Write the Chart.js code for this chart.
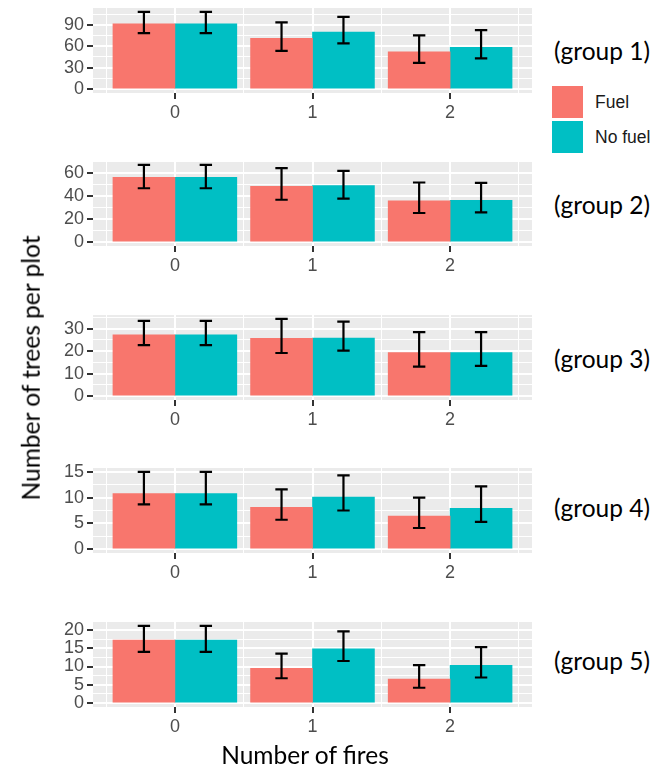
<!DOCTYPE html>
<html><head><meta charset="utf-8">
<script src="https://cdn.jsdelivr.net/npm/chart.js@4.4.0/dist/chart.umd.min.js"></script>
<style>
html,body{margin:0;padding:0;background:#fff;}
#wrap{position:relative;width:671px;height:771px;overflow:hidden;background:#fff;}
#wrap canvas{position:absolute;left:0;}
.glab{position:absolute;left:554px;font-family:Lato,"Open Sans",sans-serif;font-size:24.5px;color:#000;white-space:nowrap;transform:translateY(-50%);line-height:1;}
.sw{position:absolute;left:552px;width:31px;height:32px;}
.lt{position:absolute;left:595px;font-family:"Liberation Sans",Arial,sans-serif;font-size:17.5px;color:#1a1a1a;transform:translateY(-50%);line-height:1;white-space:nowrap;}
.ttl{position:absolute;font-family:Lato,"Open Sans",sans-serif;font-size:24.5px;color:#000;white-space:nowrap;line-height:1;}
</style></head>
<body><div id="wrap"></div>
<script>
// ---------------- data ----------------
const categories = [0, 1, 2];
const xTickLabels = ['0', '1', '2'];
const groupLabels = ['(group 1)', '(group 2)', '(group 3)', '(group 4)', '(group 5)'];
const seriesNames = ['Fuel', 'No fuel'];

const fuelMean = [[91.4, 70.9, 52.2], [56.2, 48.5, 35.9], [27.3, 25.7, 19.4], [10.8, 8.1, 6.4], [17.2, 9.5, 6.6]];
const fuelLow  = [[78.4, 53.6, 36.8], [46.8, 36.8, 25.3], [22.7, 19.2, 13.1], [8.7, 5.7, 4.1], [14.0, 6.8, 4.2]];
const fuelHigh = [[108, 93.3, 75.0], [67.1, 64.2, 51.8], [33.5, 34.4, 28.5], [15.0, 11.6, 10.0], [21.1, 13.5, 10.4]];

const noFuelMean = [[91.4, 79.8, 58.3], [56.2, 49.2, 36.2], [27.3, 25.8, 19.4], [10.8, 10.1, 7.9], [17.2, 14.8, 10.3]];
const noFuelLow  = [[78.4, 63.9, 43.0], [46.8, 37.7, 25.9], [22.7, 20.3, 13.5], [8.7, 7.5, 5.3], [14.0, 11.5, 7.0]];
const noFuelHigh = [[108, 101, 82.6], [67.1, 61.8, 51.5], [33.5, 33.2, 28.5], [15.0, 14.3, 12.2], [21.1, 19.6, 15.3]];

const yMajorTicks = [[0, 30, 60, 90], [0, 20, 40, 60], [0, 10, 20, 30], [0, 5, 10, 15], [0, 5, 10, 15, 20]];

// ---------------- layout / style ----------------
const COLORS = ['#F8766D', '#00BFC4'];
const panelTops = [7.5, 161, 314.5, 468, 621.5];
const panelH = 85;
const padTop = 16, xAxisH = 34, canvasW = 545, plotLeft = 93, plotRight = 532;
const groupLabelY = [50.5, 205, 359, 508, 661];
const TICK_FONT = { family: 'Liberation Sans', size: 18 };

const wrap = document.getElementById('wrap');

const bgPlugin = {
  id: 'bg',
  beforeDraw(chart) {
    const a = chart.chartArea, c = chart.ctx;
    c.save(); c.fillStyle = '#EBEBEB';
    c.fillRect(a.left, a.top, a.right - a.left, a.bottom - a.top);
    c.restore();
  }
};
const errPlugin = {
  id: 'err',
  afterDatasetsDraw(chart) {
    const c = chart.ctx, ys = chart.scales.y;
    chart.data.datasets.forEach((ds, i) => {
      const meta = chart.getDatasetMeta(i);
      meta.data.forEach((el, j) => {
        const x = el.x, half = el.width * 0.1;
        const yh = ys.getPixelForValue(ds.hi[j]), yl = ys.getPixelForValue(ds.lo[j]);
        c.save(); c.strokeStyle = '#000'; c.lineWidth = 2.2;
        c.beginPath();
        c.moveTo(x, yh); c.lineTo(x, yl);
        c.moveTo(x - half, yh); c.lineTo(x + half, yh);
        c.moveTo(x - half, yl); c.lineTo(x + half, yl);
        c.stroke(); c.restore();
      });
    });
  }
};

function halfway(arr) {
  const step = arr[1] - arr[0];
  const out = [];
  for (let v = arr[0] - step / 2; v <= arr[arr.length - 1] + step; v += step) out.push(v);
  return out;
}
const tv = c => (c && c.tick) ? c.tick.value : NaN;

groupLabels.forEach((g, k) => {
  const cv = document.createElement('canvas');
  const h = padTop + panelH + xAxisH;
  cv.width = canvasW; cv.height = h;
  cv.style.top = (panelTops[k] - padTop) + 'px';
  cv.style.width = canvasW + 'px'; cv.style.height = h + 'px';
  wrap.appendChild(cv);

  const maxV = Math.max(...fuelHigh[k], ...noFuelHigh[k]);
  const yMin = -0.05 * maxV, yMax = 1.05 * maxV;
  const major = yMajorTicks[k];
  const minor = halfway(major).filter(v => v > yMin && v < yMax);
  const majorSet = new Set(major);
  const yTicks = [...major, ...minor].sort((a, b) => a - b);
  const xTicks = [-0.5, 0, 0.5, 1, 1.5, 2, 2.5];
  const span = categories[2] - categories[0] + 0.9;
  const xMin = categories[0] - 0.45 - 0.05 * span;
  const xMax = categories[2] + 0.45 + 0.05 * span;

  new Chart(cv, {
    type: 'bar',
    data: {
      datasets: [
        { label: seriesNames[0], data: categories.map((c, j) => ({ x: c, y: fuelMean[k][j] })), lo: fuelLow[k], hi: fuelHigh[k], backgroundColor: COLORS[0] },
        { label: seriesNames[1], data: categories.map((c, j) => ({ x: c, y: noFuelMean[k][j] })), lo: noFuelLow[k], hi: noFuelHigh[k], backgroundColor: COLORS[1] }
      ]
    },
    options: {
      responsive: false, animation: false, devicePixelRatio: 1,
      layout: { padding: { top: padTop, right: canvasW - plotRight, left: 0, bottom: 0 } },
      datasets: { bar: { categoryPercentage: 0.9, barPercentage: 1.0, barThickness: 'flex', borderWidth: 0 } },
      plugins: { legend: { display: false }, tooltip: { enabled: false } },
      scales: {
        x: {
          type: 'linear', min: xMin, max: xMax, offset: false,
          afterBuildTicks: s => { s.ticks = xTicks.map(v => ({ value: v })); },
          afterFit: s => { s.height = xAxisH; },
          border: { display: false },
          grid: {
            offset: false,
            color: '#FFFFFF',
            lineWidth: c => Number.isInteger(tv(c)) ? 2 : 1,
            tickColor: c => Number.isInteger(tv(c)) ? '#333333' : 'rgba(0,0,0,0)',
            tickWidth: 2, tickLength: 6, drawTicks: true
          },
          ticks: {
            autoSkip: false, maxRotation: 0, padding: 3, color: '#4D4D4D',
            font: TICK_FONT,
            callback: v => Number.isInteger(v) ? xTickLabels[categories.indexOf(v)] : ''
          }
        },
        y: {
          type: 'linear', min: yMin, max: yMax,
          afterBuildTicks: s => { s.ticks = yTicks.map(v => ({ value: v })); },
          afterFit: s => { s.width = plotLeft; },
          border: { display: false },
          grid: {
            color: '#FFFFFF',
            lineWidth: c => majorSet.has(tv(c)) ? 2 : 1,
            tickColor: c => majorSet.has(tv(c)) ? '#333333' : 'rgba(0,0,0,0)',
            tickWidth: 2, tickLength: 6, drawTicks: true
          },
          ticks: {
            autoSkip: false, padding: 3, color: '#4D4D4D',
            font: TICK_FONT,
            callback: v => majorSet.has(v) ? String(v) : ''
          }
        }
      }
    },
    plugins: [bgPlugin, errPlugin]
  });

  const gl = document.createElement('div');
  gl.className = 'glab'; gl.textContent = g; gl.style.top = groupLabelY[k] + 'px';
  wrap.appendChild(gl);
});

// legend
[[86, 103], [120.5, 137.5]].forEach((p, i) => {
  const sw = document.createElement('div');
  sw.className = 'sw'; sw.style.top = p[0] + 'px'; sw.style.background = COLORS[i];
  wrap.appendChild(sw);
  const t = document.createElement('div');
  t.className = 'lt'; t.style.top = p[1] + 'px'; t.textContent = seriesNames[i];
  wrap.appendChild(t);
});

// axis titles
const yt = document.createElement('div');
yt.className = 'ttl'; yt.textContent = 'Number of trees per plot';
yt.style.left = '31px'; yt.style.top = '368px';
yt.style.transform = 'translate(-50%,-50%) rotate(-90deg)';
wrap.appendChild(yt);
const xt = document.createElement('div');
xt.className = 'ttl'; xt.textContent = 'Number of fires';
xt.style.left = '305px'; xt.style.top = '755px';
xt.style.transform = 'translate(-50%,-50%)';
wrap.appendChild(xt);
</script>
</body></html>
